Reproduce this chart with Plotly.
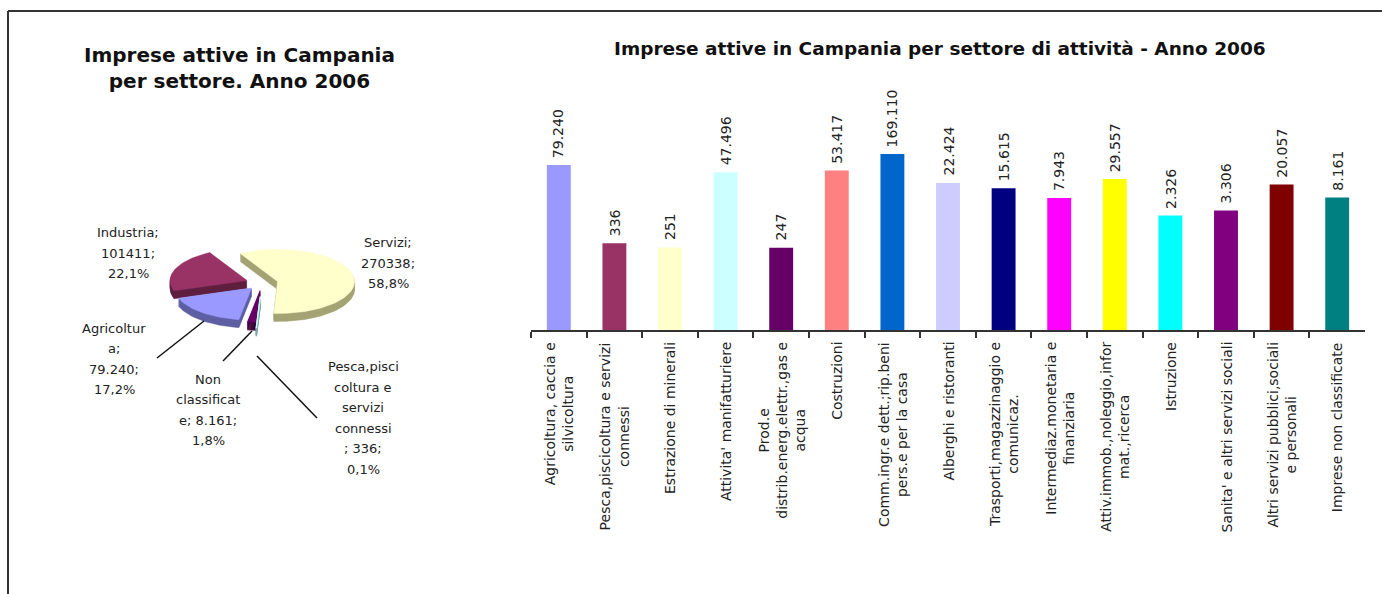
import math
import plotly.graph_objects as go

W, H = 1382, 594
FONT = "DejaVu Sans"

# ---------------- bar chart data ----------------
settori = [
    "Agricoltura, caccia e\nsilvicoltura",
    "Pesca,piscicoltura e servizi\nconnessi",
    "Estrazione di minerali",
    "Attivita' manifatturiere",
    "Prod.e\ndistrib.energ.elettr.,gas e\nacqua",
    "Costruzioni",
    "Comm.ingr.e dett.;rip.beni\npers.e per la casa",
    "Alberghi e ristoranti",
    "Trasporti,magazzinaggio e\ncomunicaz.",
    "Intermediaz.monetaria e\nfinanziaria",
    "Attiv.immob.,noleggio,infor\nmat.,ricerca",
    "Istruzione",
    "Sanita' e altri servizi sociali",
    "Altri servizi pubblici,sociali\ne personali",
    "Imprese non classificate",
]
imprese = [79240, 336, 251, 47496, 247, 53417, 169110, 22424,
           15615, 7943, 29557, 2326, 3306, 20057, 8161]
bar_colors = ["#9999FF", "#993366", "#FFFFCC", "#CCFFFF", "#660066",
              "#FF8080", "#0066CC", "#CCCCFF", "#000080", "#FF00FF",
              "#FFFF00", "#00FFFF", "#800080", "#800000", "#008080"]

# ---------------- pie data (clockwise order) ----------------
pie_names = ["Servizi", "Pesca,piscicoltura e servizi connessi",
             "Non classificate", "Agricoltura", "Industria"]
pie_values = [270338, 336, 8161, 79240, 101411]
pie_colors = ["#FFFFCC", "#CCFFFF", "#660066", "#9999FF", "#993366"]
pie_side_colors = ["#A3A374", "#7FA6A6", "#3A003A", "#5E5EA3", "#5E1F3F"]
# label text layout for each slice ({v} value, {p} percentage)
pie_templates = [
    "Servizi;\n{v};\n{p}",
    "Pesca,pisci\ncoltura e\nservizi\nconnessi\n; {v};\n{p}",
    "Non\nclassificat\ne; {v};\n{p}",
    "Agricoltur\na;\n{v};\n{p}",
    "Industria;\n{v};\n{p}",
]
pie_grouped = [False, True, True, True, False]
pie_label_pos = [(388, 263), (363, 418), (208, 410), (114, 359), (128, 253)]
pie_leaders = [None, ((257, 356), (317, 418)), ((252, 331), (223, 361)),
               ((204, 321), (157, 358)), None]

# pie geometry (pixels)
cx, cy = 262, 283
rx, ry = 77, 32
depth = 8
start_angle = 331.0
explode = [16, 32, 18, 16, 16]


def it_int(v):
    return f"{v:,}".replace(",", ".")


def it_pct(x):
    return f"{x:.1f}".replace(".", ",") + "%"


fig = go.Figure()

# ---------------- bars ----------------
cat_keys = [s.replace("\n", " ") for s in settori]
fig.add_trace(go.Bar(
    x=cat_keys, y=imprese, marker=dict(color=bar_colors, line=dict(width=0)),
    width=0.43, showlegend=False, hoverinfo="skip", xaxis="x", yaxis="y",
))

annotations = []
for k, v in zip(cat_keys, imprese):
    annotations.append(dict(
        x=k, y=math.log10(v), xref="x", yref="y", text=it_int(v),
        textangle=-90, showarrow=False, xanchor="center", yanchor="bottom",
        yshift=5, font=dict(family=FONT, size=14, color="#222"),
    ))

axis_y_px = 330
for k, s in zip(cat_keys, settori):
    annotations.append(dict(
        x=k, y=(H - axis_y_px) / H, xref="x", yref="paper",
        text=s.replace("\n", "<br>"), textangle=-90, align="center",
        showarrow=False, xanchor="center", yanchor="top", yshift=-10,
        font=dict(family=FONT, size=14, color="#222"),
    ))

# ---------------- 3D-looking exploded pie ----------------
total = sum(pie_values)
slices = []
a = start_angle
for i, v in enumerate(pie_values):
    sweep = 360.0 * v / total
    a0, a1 = a, a + sweep
    mid = math.radians((a0 + a1) / 2)
    vx = cx + explode[i] * math.sin(mid)
    vy = cy - explode[i] * (ry / rx) * math.cos(mid)
    n = max(3, int(sweep / 2) + 2)
    xs, ys = [vx], [vy]
    for j in range(n + 1):
        t = math.radians(a0 + (a1 - a0) * j / n)
        xs.append(vx + rx * math.sin(t))
        ys.append(vy - ry * math.cos(t))
    xs.append(vx)
    ys.append(vy)
    slices.append((i, xs, ys, vy, mid))
    a = a1

for i, xs, ys, vy, mid in sorted(slices, key=lambda s: s[3]):
    thin = pie_values[i] / total < 0.01
    sx, sy = [], []
    for d in range(1, depth + 1):
        sx += xs + [None]
        sy += [y + d for y in ys] + [None]
    fig.add_trace(go.Scatter(
        x=sx, y=sy, mode="lines", fill="toself",
        fillcolor=pie_side_colors[i],
        line=dict(width=1.5 if thin else 0.5, color=pie_side_colors[i]),
        showlegend=False, hoverinfo="skip", xaxis="x2", yaxis="y2",
    ))
    fig.add_trace(go.Scatter(
        x=xs, y=ys, mode="lines", fill="toself",
        fillcolor=pie_colors[i],
        line=dict(width=1.5 if thin else 0.5, color=pie_colors[i]),
        showlegend=False, hoverinfo="skip", xaxis="x2", yaxis="y2",
    ))

shapes = []
line_gap = 20.5
for i, v in enumerate(pie_values):
    vtxt = it_int(v) if pie_grouped[i] else str(v)
    text = pie_templates[i].format(v=vtxt, p=it_pct(100.0 * v / total))
    lines = text.split("\n")
    lx, ly = pie_label_pos[i]
    for j, ln in enumerate(lines):
        annotations.append(dict(
            x=lx, y=ly + (j - (len(lines) - 1) / 2) * line_gap,
            xref="x2", yref="y2", text=ln, showarrow=False,
            xanchor="center", yanchor="middle",
            font=dict(family=FONT, size=13, color="#222"),
        ))
    if pie_leaders[i]:
        (x0, y0), (x1, y1) = pie_leaders[i]
        shapes.append(dict(type="line", xref="x2", yref="y2", x0=x0, y0=y0,
                           x1=x1, y1=y1, line=dict(color="#111", width=1.5)))

# titles
annotations.append(dict(
    x=239, y=68, xref="x2", yref="y2",
    text="<b>Imprese attive in Campania<br>per settore. Anno 2006</b>",
    showarrow=False, xanchor="center", yanchor="middle",
    font=dict(family=FONT, size=20, color="#111"),
))
annotations.append(dict(
    x=940, y=48, xref="x2", yref="y2",
    text="<b>Imprese attive in Campania per settore di attività - Anno 2006</b>",
    showarrow=False, xanchor="center", yanchor="middle",
    font=dict(family=FONT, size=18.5, color="#111"),
))

# frame
shapes.append(dict(type="line", xref="x2", yref="y2", x0=8, y0=11, x1=8, y1=H,
                   line=dict(color="#333", width=2)))
shapes.append(dict(type="line", xref="x2", yref="y2", x0=8, y0=11, x1=W, y1=11,
                   line=dict(color="#333", width=2)))

fig.update_layout(
    width=W, height=H, margin=dict(l=0, r=0, t=0, b=0),
    paper_bgcolor="white", plot_bgcolor="rgba(0,0,0,0)",
    showlegend=False,
    xaxis=dict(domain=[531 / W, 1365 / W], type="category",
               range=[-0.5, len(settori) - 0.5], anchor="y",
               showline=True, linecolor="#333", linewidth=1.5,
               ticks="outside", tickson="boundaries", ticklen=6,
               tickcolor="#333", tickwidth=1.5,
               showticklabels=False, showgrid=False, zeroline=False),
    yaxis=dict(domain=[(H - axis_y_px) / H, (H - 100) / H], type="log",
               range=[-0.097, 6.862], visible=False, anchor="x"),
    xaxis2=dict(domain=[0, 1], range=[0, W], visible=False, anchor="y2"),
    yaxis2=dict(domain=[0, 1], range=[H, 0], visible=False, anchor="x2"),
    annotations=annotations,
    shapes=shapes,
)

fig.write_html("out.html")
